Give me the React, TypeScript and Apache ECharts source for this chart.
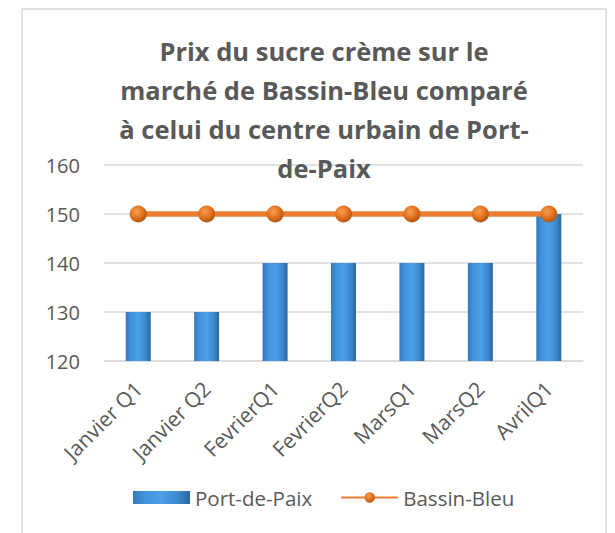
import React, { useEffect, useRef } from "react";
import * as echarts from "echarts";

const categories = ["Janvier Q1", "Janvier Q2", "FevrierQ1", "FevrierQ2", "MarsQ1", "MarsQ2", "AvrilQ1"];
const portDePaix = [130, 130, 140, 140, 140, 140, 150];
const bassinBleu = [150, 150, 150, 150, 150, 150, 150];
const titleLines = [
  "Prix du sucre crème sur le",
  "marché de Bassin-Bleu comparé",
  "à celui du centre urbain de Port-",
  "de-Paix",
];

export default function App() {
  const ref = useRef<HTMLDivElement>(null);
  useEffect(() => {
    if (!ref.current) return;
    const chart = echarts.init(ref.current, undefined, { renderer: "svg" });
    const font = "Open Sans";
    const barColor = new echarts.graphic.LinearGradient(0, 0, 1, 0, [
      { offset: 0, color: "#3479bd" },
      { offset: 0.2, color: "#4192da" },
      { offset: 0.5, color: "#4aa0e8" },
      { offset: 0.8, color: "#3b87cc" },
      { offset: 1, color: "#2a659e" },
    ]);
    const markerColor = new echarts.graphic.RadialGradient(0.4, 0.35, 0.7, [
      { offset: 0, color: "#f7a052" },
      { offset: 0.55, color: "#e2711f" },
      { offset: 1, color: "#a9500e" },
    ]);
    chart.setOption({
      animation: false,
      backgroundColor: "#ffffff",
      textStyle: { fontFamily: font },
      graphic: [
        {
          type: "rect",
          shape: { x: 22, y: 9, width: 584, height: 540 },
          style: { fill: "none", stroke: "#d9d9d9", lineWidth: 1.5 },
          z: -1,
        },
      ],
      title: {
        text: titleLines.join("\n"),
        left: 319,
        textAlign: "center",
        top: 26,
        textStyle: {
          fontFamily: font,
          fontWeight: "bold",
          fontSize: 25.5,
          lineHeight: 39,
          color: "#595959",
        },
      },
      grid: { left: 104, right: 32, top: 165, bottom: 172, containLabel: false },
      legend: {
        bottom: 20,
        left: 128,
        itemGap: 28,
        itemWidth: 57,
        itemHeight: 13,
        textStyle: { fontFamily: font, fontSize: 20.5, color: "#595959" },
        data: [
          { name: "Port-de-Paix", icon: "rect" },
          { name: "Bassin-Bleu" },
        ],
      },
      xAxis: {
        type: "category",
        data: categories,
        axisLine: { show: true, lineStyle: { color: "#d9d9d9", width: 1.5 } },
        axisTick: { show: false },
        axisLabel: {
          rotate: 45,
          margin: 24,
          fontSize: 21,
          color: "#595959",
          fontFamily: font,
          interval: 0,
        },
      },
      yAxis: {
        type: "value",
        min: 120,
        max: 160,
        interval: 10,
        axisLine: { show: false },
        axisTick: { show: false },
        splitLine: { lineStyle: { color: "#d9d9d9", width: 1.5 } },
        axisLabel: { fontSize: 20, color: "#595959", margin: 24, fontFamily: font },
      },
      series: [
        {
          name: "Port-de-Paix",
          type: "bar",
          data: portDePaix,
          barWidth: 25,
          itemStyle: { color: barColor },
        },
        {
          name: "Bassin-Bleu",
          type: "line",
          data: bassinBleu,
          symbol: "circle",
          symbolSize: 17,
          lineStyle: { color: "#ed7d31", width: 5.5 },
          itemStyle: { color: markerColor },
          z: 3,
        },
      ],
    });
    return () => chart.dispose();
  }, []);
  return (
    <div
      ref={ref}
      style={{ position: "fixed", left: 0, top: 0, width: 615, height: 533 }}
    />
  );
}
